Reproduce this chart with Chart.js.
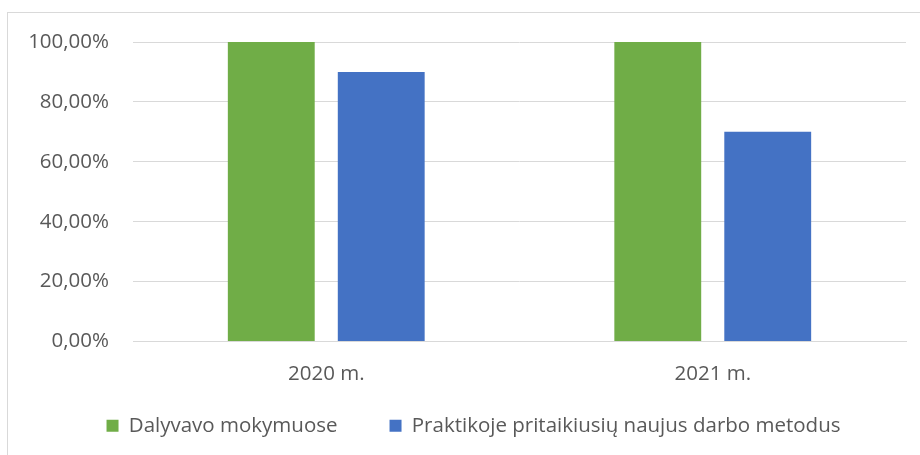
<!DOCTYPE html>
<html>
<head>
<meta charset="utf-8">
<script src="https://cdn.jsdelivr.net/npm/chart.js@4/dist/chart.umd.min.js"></script>
<style>
  html, body { margin: 0; padding: 0; background: #fff; }
  body { width: 920px; height: 455px; position: relative; overflow: hidden; }
  #box { position: absolute; left: 7px; top: 12px; width: 920px; height: 450px; border: 1px solid #d9d9d9; box-sizing: border-box; }
  #wrap { position: absolute; left: 1px; top: 1px; width: 912px; height: 442px; }
</style>
</head>
<body>
<div id="box"><div id="wrap"><canvas id="chart"></canvas></div></div>
<script>
const categories = ['2020 m.', '2021 m.'];
const seriesNames = ['Dalyvavo mokymuose', 'Praktikoje pritaikiusių naujus darbo metodus'];
const participated = [100, 100];
const applied = [90, 70];
const yTicks = [0, 20, 40, 60, 80, 100];

const COLORS = ['#70AD47', '#4472C4'];
const TEXT = '#595959';
const FONT = "'Open Sans', sans-serif";
const SIZE = 20.5;

Chart.defaults.font.family = FONT;
Chart.defaults.color = TEXT;

const fmt = (v) => v.toFixed(2).replace('.', ',') + '%';

// 元の図は凡例が少し右寄り
const legendShift = {
  id: 'legendShift',
  afterLayout(chart) {
    chart.legend.left += 16;
    chart.legend.right += 16;
  },
};

new Chart(document.getElementById('chart').getContext('2d'), {
  type: 'bar',
  data: {
    labels: categories,
    datasets: [
      { label: seriesNames[0], data: participated, backgroundColor: COLORS[0] },
      { label: seriesNames[1], data: applied, backgroundColor: COLORS[1] },
    ],
  },
  plugins: [legendShift],
  options: {
    responsive: true,
    maintainAspectRatio: false,
    animation: false,
    categoryPercentage: 0.569,
    barPercentage: 0.79,
    layout: { padding: { top: 28, right: 15, left: 0, bottom: 10 } },
    plugins: {
      tooltip: { enabled: false },
      legend: {
        position: 'bottom',
        labels: {
          boxWidth: 12,
          boxHeight: 12,
          padding: 52,
          color: TEXT,
          font: { size: SIZE },
        },
      },
    },
    scales: {
      x: {
        grid: { display: false, drawTicks: false },
        border: { display: true, color: '#d9d9d9' },
        ticks: { padding: 20, color: TEXT, font: { size: SIZE } },
        afterFit: (s) => {
          s.height = 22;
          // 凡例と重なる高さなので、ラベルの clip を外す
          s._computeLabelArea = () => undefined;
        },
      },
      y: {
        min: 0,
        max: 100,
        afterBuildTicks: (s) => { s.ticks = yTicks.map((v) => ({ value: v })); },
        grid: { color: '#d9d9d9', drawTicks: false },
        border: { display: false },
        ticks: { padding: 24, color: TEXT, font: { size: SIZE }, callback: (v) => fmt(v) },
        afterFit: (s) => {
          s.width = 124;
          s.paddingTop = 0;
        },
      },
    },
  },
});
</script>
</body>
</html>
